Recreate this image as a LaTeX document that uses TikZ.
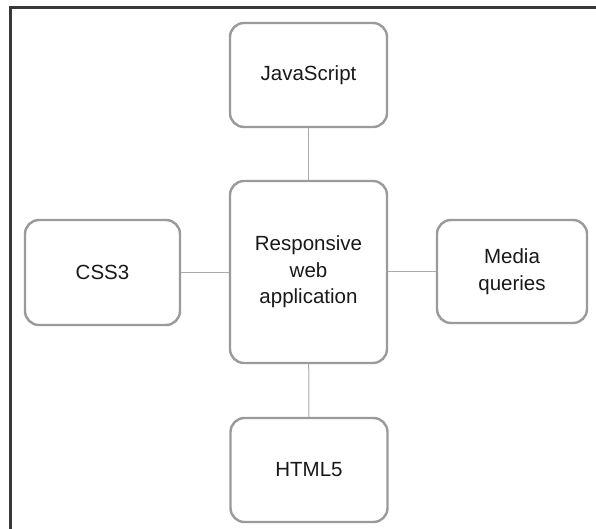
\documentclass[tikz,border=0pt]{standalone}
\usepackage{fontspec}
\setmainfont{Liberation Sans}
\begin{document}
\begin{tikzpicture}[x=1pt,y=-1pt,
  topic/.style={draw=boxgray, line width=2.4pt, rounded corners=14pt, fill=white,
    minimum width=157pt, minimum height=104pt, align=center, inner sep=0pt,
    font=\fontsize{20.5}{26.5}\selectfont, text=black!90},
  link/.style={draw=linkgray, line width=1pt}]
\definecolor{boxgray}{HTML}{9A9A9A}
\definecolor{linkgray}{HTML}{AAAAAA}
\definecolor{framegray}{HTML}{383838}
\useasboundingbox (0,0) rectangle (596,529);
% outer frame
\begin{scope}
\clip (0,0) rectangle (596,529);
\draw[framegray, line width=2.2pt] (10.5,540) -- (10.5,7.5) -- (610,7.5);
\end{scope}
% boxes
\node[topic] (js) at (308.5,75) {JavaScript};
\node[topic, minimum height=182pt] (core) at (308.5,272) {Responsive\\web\\application};
\node[topic] (html) at (309,470) {HTML5};
\node[topic, minimum width=155pt, minimum height=105pt] (css) at (102.5,272.5) {CSS3};
\node[topic, minimum width=150pt, minimum height=103pt] (mq) at (512,271.5) {Media\\queries};
% connectors
\draw[link] (js) -- (core);
\draw[link] (core) -- (html);
\draw[link] (css) -- (css -| core.west);
\draw[link] (core.east |- mq) -- (mq);
\end{tikzpicture}
\end{document}
